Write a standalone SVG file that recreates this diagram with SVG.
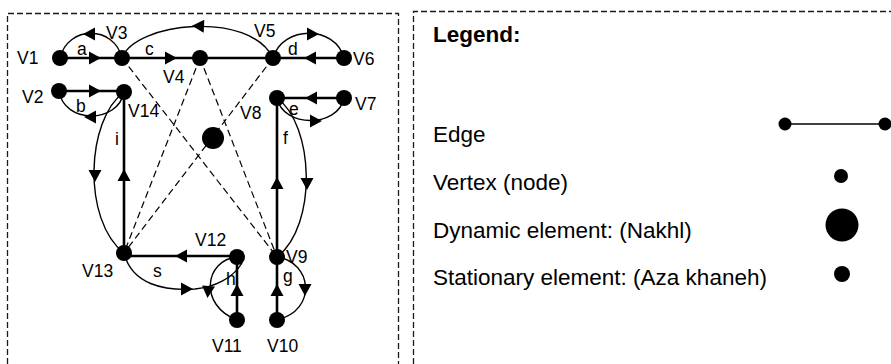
<svg xmlns="http://www.w3.org/2000/svg" width="891" height="364" viewBox="0 0 891 364">
  <style>
    .frame { fill: none; stroke: #1a1a1a; stroke-width: 1.3; stroke-dasharray: 6 3; }
    .edge { fill: none; stroke: #000; stroke-width: 2.6; }
    .arc { fill: none; stroke: #000; stroke-width: 1.4; }
    .sight { fill: none; stroke: #000; stroke-width: 1.2; stroke-dasharray: 7 4; }
    .node { fill: #000; }
    .lbl { font-family: "Liberation Sans", Arial, sans-serif; font-size: 17.5px; fill: #000; }
    .leg { font-family: "Liberation Sans", Arial, sans-serif; font-size: 22.5px; fill: #000; }
    .legh { font-family: "Liberation Sans", Arial, sans-serif; font-size: 22.5px; font-weight: bold; fill: #000; }
  </style>
  <defs>
    <!-- filled arrowhead pointing along +x, centred on the origin -->
    <path id="ah" d="M6,0 L-6,-6.5 L-6,6.5 Z" fill="#000"/>
  </defs>

  <rect width="891" height="364" fill="#fff"/>

  <!-- panel frames -->
  <path class="frame" d="M7.5,364 V13.5 H398.5 V364"/>
  <path class="frame" d="M413.5,364 V11.5 H891"/>

  <!-- connectors -->
  <g id="connectors">
    <!-- sight lines -->
    <line class="sight" x1="122" y1="58" x2="277" y2="257"/>
    <line class="sight" x1="200" y1="58" x2="124" y2="253"/>
    <line class="sight" x1="200" y1="58" x2="277" y2="257"/>
    <line class="sight" x1="273" y1="58" x2="124" y2="253"/>

    <!-- straight edges -->
    <line class="edge" x1="60" y1="58" x2="344" y2="58"/>
    <line class="edge" x1="59" y1="91" x2="124" y2="91"/>
    <line class="edge" x1="277" y1="98" x2="344" y2="98"/>
    <line class="edge" x1="124" y1="92" x2="124" y2="253"/>
    <line class="edge" x1="277" y1="98" x2="277" y2="320"/>
    <line class="edge" x1="124" y1="256" x2="237" y2="256"/>
    <line class="edge" x1="237" y1="257" x2="237" y2="320"/>

    <!-- curved edges -->
    <path class="arc" d="M60,58 C68,25 114,25 122,58"/>
    <path class="arc" d="M122,58 C135,22 250,10 273,58"/>
    <path class="arc" d="M273,58 C283,25 335,25 344,58"/>
    <path class="arc" d="M59,91 C64,124 118,124 124,92"/>
    <path class="arc" d="M277,98 C283,128 338,128 344,98"/>
    <path class="arc" d="M124,92 C86,120 82,220 124,253"/>
    <path class="arc" d="M277,98 C314,125 318,225 277,257"/>
    <path class="arc" d="M277,257 C312,262 318,310 277,320"/>
    <path class="arc" d="M237,257 C205,260 198,305 237,320"/>
    <path class="arc" d="M124,253 C132,285 165,291 195,289 C215,287 233,278 242,263"/>

    <!-- arrowheads -->
    <use href="#ah" transform="translate(95,58)"/>
    <use href="#ah" transform="translate(171,58)"/>
    <use href="#ah" transform="translate(310,58) rotate(180)"/>
    <use href="#ah" transform="translate(95,91)"/>
    <use href="#ah" transform="translate(311,98) rotate(180)"/>
    <use href="#ah" transform="translate(89,34) rotate(180)"/>
    <use href="#ah" transform="translate(198,26) rotate(183)"/>
    <use href="#ah" transform="translate(313,34)"/>
    <use href="#ah" transform="translate(90,117) rotate(180)"/>
    <use href="#ah" transform="translate(316,121)"/>
    <use href="#ah" transform="translate(124,175) rotate(-90)"/>
    <use href="#ah" transform="translate(95,176) rotate(90)"/>
    <use href="#ah" transform="translate(277,183) rotate(-90)"/>
    <use href="#ah" transform="translate(307,184) rotate(90)"/>
    <use href="#ah" transform="translate(181,256) rotate(180)"/>
    <use href="#ah" transform="translate(187,289)"/>
    <use href="#ah" transform="translate(208,292) rotate(95)"/>
    <use href="#ah" transform="translate(237,290) rotate(-90)"/>
    <use href="#ah" transform="translate(277,290) rotate(-90)"/>
    <use href="#ah" transform="translate(305,290) rotate(90)"/>
  </g>

  <!-- edge labels -->
  <g id="edge-labels" class="lbl">
    <text x="77" y="55">a</text>
    <text x="145" y="55">c</text>
    <text x="288" y="55">d</text>
    <text x="76" y="112">b</text>
    <text x="289" y="115">e</text>
    <text x="115" y="145">i</text>
    <text x="283" y="144">f</text>
    <text x="153" y="277">s</text>
    <text x="283" y="282">g</text>
    <text x="226" y="285">h</text>
  </g>

  <!-- vertices -->
  <g id="V1"><circle class="node" cx="60" cy="58" r="8"/><text class="lbl" x="17" y="64">V1</text></g>
  <g id="V2"><circle class="node" cx="59" cy="91" r="8"/><text class="lbl" x="22" y="103">V2</text></g>
  <g id="V3"><circle class="node" cx="122" cy="58" r="8"/><text class="lbl" x="106" y="39">V3</text></g>
  <g id="V4"><circle class="node" cx="200" cy="58" r="8"/><text class="lbl" x="163" y="83">V4</text></g>
  <g id="V5"><circle class="node" cx="273" cy="58" r="8"/><text class="lbl" x="254" y="37">V5</text></g>
  <g id="V6"><circle class="node" cx="344" cy="58" r="8"/><text class="lbl" x="353" y="65">V6</text></g>
  <g id="V7"><circle class="node" cx="344" cy="98" r="8"/><text class="lbl" x="355" y="110">V7</text></g>
  <g id="V8"><circle class="node" cx="277" cy="98" r="8"/><text class="lbl" x="240" y="119">V8</text></g>
  <g id="V9"><circle class="node" cx="277" cy="257" r="8"/><text class="lbl" x="286" y="263">V9</text></g>
  <g id="V10"><circle class="node" cx="277" cy="320" r="8"/><text class="lbl" x="267" y="352">V10</text></g>
  <g id="V11"><circle class="node" cx="237" cy="320" r="8"/><text class="lbl" x="212" y="352">V11</text></g>
  <g id="V12"><circle class="node" cx="237" cy="257" r="8"/><text class="lbl" x="195" y="246">V12</text></g>
  <g id="V13"><circle class="node" cx="124" cy="253" r="8"/><text class="lbl" x="82" y="277">V13</text></g>
  <g id="V14"><circle class="node" cx="124" cy="92" r="8"/><text class="lbl" x="128" y="117">V14</text></g>
  <g id="nakhl"><circle class="node" cx="213" cy="138" r="11"/></g>

  <!-- legend -->
  <g id="legend">
    <text class="legh" x="433" y="42">Legend:</text>
    <text class="leg" x="433" y="142">Edge</text>
    <line x1="785" y1="124" x2="885" y2="124" stroke="#000" stroke-width="1.6"/>
    <circle class="node" cx="785" cy="124" r="6.5"/>
    <circle class="node" cx="885" cy="124" r="6.5"/>
    <text class="leg" x="433" y="190">Vertex (node)</text>
    <circle class="node" cx="841" cy="176" r="7"/>
    <text class="leg" x="433" y="238">Dynamic element: (Nakhl)</text>
    <circle class="node" cx="842" cy="225" r="16.5"/>
    <text class="leg" x="433" y="285">Stationary element: (Aza khaneh)</text>
    <circle class="node" cx="842" cy="274" r="8"/>
  </g>
</svg>
